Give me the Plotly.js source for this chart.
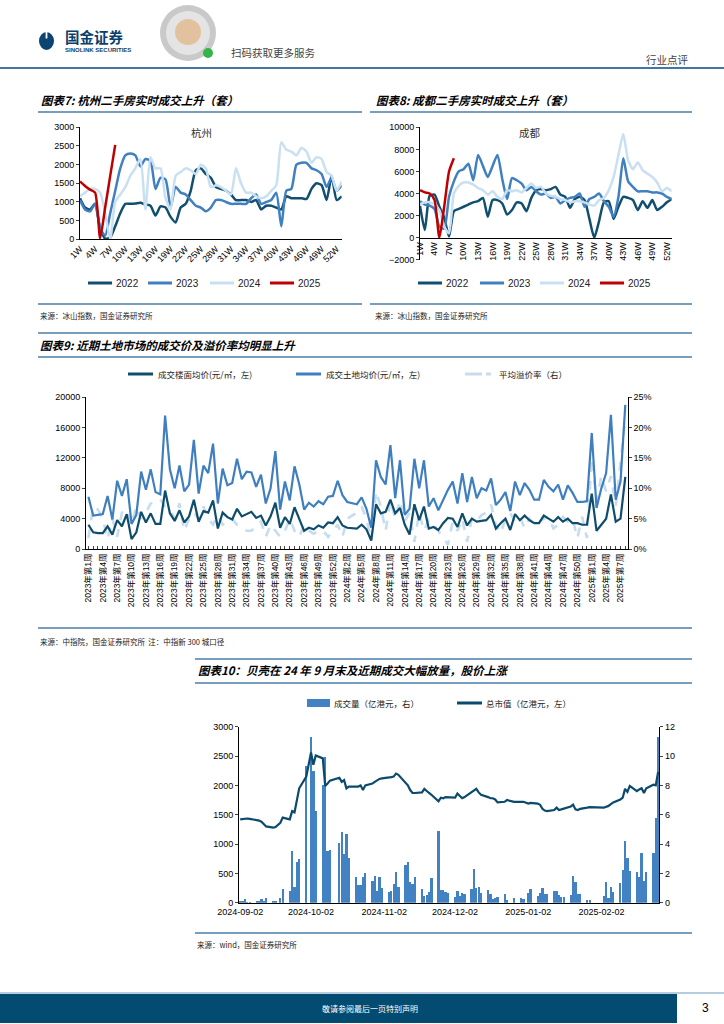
<!DOCTYPE html>
<html><head><meta charset="utf-8">
<script src="https://cdn.plot.ly/plotly-3.0.1.min.js"></script>
<style>html,body{margin:0;padding:0;background:#fff;}#chart{width:724px;height:1024px;}</style>
</head><body><div id="chart"></div>
<script>
// ---------- 图表7 杭州 ----------
const hzWeeks = [1,2,3,4,5,6,7,8,9,10,11,12,13,14,15,16,17,18,19,20,21,22,23,24,25,26,27,28,29,30,31,32,33,34,35,36,37,38,39,40,41,42,43,44,45,46,47,48,49,50,51,52,53];
const weekTickVals = [1,4,7,10,13,16,19,22,25,28,31,34,37,40,43,46,49,52];
const weekTickText = ['1W','4W','7W','10W','13W','16W','19W','22W','25W','28W','31W','34W','37W','40W','43W','46W','49W','52W'];
const hz2022 = [1100,850,800,950,300,20,50,350,700,950,950,960,980,930,900,640,880,850,600,450,850,950,1300,1850,1900,1750,1650,1400,1350,1300,1200,1050,1050,1050,1000,1050,800,900,900,850,800,1150,1100,1100,1100,1080,1350,1500,1450,1050,1700,1050,1150];
const hz2023 = [1050,800,750,950,300,100,700,1300,1900,2250,2300,2250,1950,2150,2100,1350,1650,1600,850,1400,1250,1200,1050,900,850,750,850,1050,1050,1000,950,950,950,950,1100,1200,950,1000,1050,1250,350,1300,1350,2000,2050,2050,1900,1850,1750,1400,1650,1300,1450];
const hz2024 = [1150,1250,1350,1350,1250,700,0,1000,1200,1400,1700,1900,2150,800,2200,1900,1900,1100,800,1700,1800,1900,1850,1750,2000,1900,1400,1450,1400,1300,1200,1900,1500,1250,1250,1150,1100,1150,1300,1450,2600,2400,2350,2250,2450,2350,2050,2200,2150,1800,1700,1300,1550];
const hz2025 = [1550,1430,1330,1250,30,850,1700,2530];

// ---------- 图表8 成都 ----------
const cd2022 = [2900,700,3800,3900,2800,1800,100,2400,2600,2800,3000,3200,3300,3600,1900,3400,3400,3100,2100,2500,3200,3100,2400,3600,4300,4400,4300,4400,4600,3900,3700,2700,3500,3700,3400,1700,0,1500,3200,3300,1700,2800,3700,3600,3400,2500,3300,2700,3400,2500,2800,3200,3500];
const cd2023 = [3300,3000,2900,2600,1000,800,3700,5100,6000,6200,6700,5200,7500,6500,5500,6500,7500,5300,3500,5400,5200,4900,4300,4600,4200,3900,4000,3600,3700,3100,3400,3600,3700,4000,2800,3500,3700,4000,3300,2800,1900,3700,7200,5100,4600,4200,4200,4200,4100,4100,4000,3700,3500];
const cd2024 = [3000,3200,3200,3000,2500,1000,400,4000,4700,5000,5000,4800,4500,4300,3900,4200,3700,3500,4300,4200,4300,4100,4500,4900,4500,4600,4000,3800,3700,3500,3400,3200,3300,3300,3200,3000,2900,3400,3600,4300,5500,7500,9400,7000,6200,6800,6100,5800,5500,5000,4200,4500,4200];
const cd2025 = [4300,4100,4000,3400,0,2800,6000,7200];

// ---------- 图表9 土地市场 ----------
const landWeeks = ['2023年第1周','2023年第2周','2023年第3周','2023年第4周','2023年第5周','2023年第6周','2023年第7周','2023年第8周','2023年第9周','2023年第10周','2023年第11周','2023年第12周','2023年第13周','2023年第14周','2023年第15周','2023年第16周','2023年第17周','2023年第18周','2023年第19周','2023年第20周','2023年第21周','2023年第22周','2023年第23周','2023年第24周','2023年第25周','2023年第26周','2023年第27周','2023年第28周','2023年第29周','2023年第30周','2023年第31周','2023年第32周','2023年第33周','2023年第34周','2023年第35周','2023年第36周','2023年第37周','2023年第38周','2023年第39周','2023年第40周','2023年第41周','2023年第42周','2023年第43周','2023年第44周','2023年第45周','2023年第46周','2023年第47周','2023年第48周','2023年第49周','2023年第50周','2023年第51周','2023年第52周','2023年第53周',
'2024年第1周','2024年第2周','2024年第3周','2024年第4周','2024年第5周','2024年第6周','2024年第7周','2024年第8周','2024年第9周','2024年第10周','2024年第11周','2024年第12周','2024年第13周','2024年第14周','2024年第15周','2024年第16周','2024年第17周','2024年第18周','2024年第19周','2024年第20周','2024年第21周','2024年第22周','2024年第23周','2024年第24周','2024年第25周','2024年第26周','2024年第27周','2024年第28周','2024年第29周','2024年第30周','2024年第31周','2024年第32周','2024年第33周','2024年第34周','2024年第35周','2024年第36周','2024年第37周','2024年第38周','2024年第39周','2024年第40周','2024年第41周','2024年第42周','2024年第43周','2024年第44周','2024年第45周','2024年第46周','2024年第47周','2024年第48周','2024年第49周','2024年第50周','2024年第51周','2024年第52周',
'2025年第1周','2025年第2周','2025年第3周','2025年第4周','2025年第5周','2025年第6周','2025年第7周','2025年第8周'];
const landTickLabels = ['2023年第1周','2023年第4周','2023年第7周','2023年第10周','2023年第13周','2023年第16周','2023年第19周','2023年第22周','2023年第25周','2023年第28周','2023年第31周','2023年第34周','2023年第37周','2023年第40周','2023年第43周','2023年第46周','2023年第49周','2023年第52周','2024年第2周','2024年第5周','2024年第8周','2024年第11周','2024年第14周','2024年第17周','2024年第20周','2024年第23周','2024年第26周','2024年第29周','2024年第32周','2024年第35周','2024年第38周','2024年第41周','2024年第44周','2024年第47周','2024年第50周','2025年第1周','2025年第4周','2025年第7周'];
const landFloor = [3200,2200,2100,2100,3000,1900,3800,3000,4600,1300,2200,4900,3500,4700,3300,3300,7700,4700,3700,5100,3500,4300,6500,3600,5000,4800,6400,2700,4800,4200,3900,5300,4300,4600,4900,4100,4400,3100,4300,6100,2800,4200,3300,5500,4000,2400,2800,2600,3100,2800,3500,3400,4200,3100,2800,2700,2700,3200,2600,1100,5900,4700,4900,6500,4700,5400,3200,1900,5900,3800,5600,2700,2900,2500,3400,4100,4000,2900,4700,3100,4000,3600,3700,3800,4500,2700,3400,4000,2500,4600,3800,4400,3800,3400,3400,4400,4000,3600,4200,3600,4000,3400,3400,3200,3200,7300,2400,3200,4000,7200,3600,4000,9500];
const landPrice = [6900,4400,4500,4600,7000,3900,9000,7000,9200,3300,4500,10200,7800,10500,7500,7200,17600,10500,8000,11000,7600,8500,14400,7300,11000,10000,13900,6000,10600,8400,8700,11900,9200,10200,10100,8200,9800,6000,8000,12900,5200,8900,6400,10900,8500,5200,6100,5600,6300,5900,6900,7000,9000,7100,6200,6000,5900,6800,5300,2800,11700,9500,8500,13700,6700,11700,4500,5300,11900,8000,11700,5600,6700,5100,6500,7800,8900,6000,10000,6200,9500,6700,8000,7700,9300,5800,6500,7500,5000,8900,7100,8700,7800,6500,6500,9100,8200,7600,8500,6500,8400,7400,6200,6200,6300,15300,5400,8000,10000,17700,6500,8900,19000];
const landPremium = [1.8,7.0,6.5,5.0,1.6,5.0,2.0,6.0,6.5,4.0,7.0,5.0,6.0,7.5,7.8,8.2,7.0,6.5,5.0,7.5,3.0,5.0,6.0,5.0,7.0,5.0,4.0,5.5,4.0,4.5,5.0,4.0,3.5,3.0,3.0,3.8,4.5,2.0,4.0,3.0,2.0,3.0,5.0,3.0,2.0,4.0,3.0,2.5,3.0,3.0,2.0,3.0,4.0,2.0,5.0,5.5,6.0,7.0,5.0,1.5,9.5,7.0,3.0,8.0,5.0,8.0,4.5,6.0,1.2,6.0,3.0,4.8,4.0,3.0,1.8,0.7,4.5,3.0,5.0,1.2,5.0,4.5,5.6,6.0,7.3,4.0,2.6,5.0,5.9,4.5,5.3,3.4,5.0,4.0,4.5,5.0,5.3,3.4,4.0,5.3,4.5,5.0,1.8,5.3,1.8,15.0,7.9,12.0,9.5,12.0,7.1,14.4,21.5];

// ---------- 图表10 贝壳 ----------
const bkDates = ['2024-09-02','2024-09-03','2024-09-04','2024-09-05','2024-09-06',
'2024-09-09','2024-09-10','2024-09-11','2024-09-12','2024-09-13',
'2024-09-16','2024-09-17','2024-09-19','2024-09-20',
'2024-09-23','2024-09-24','2024-09-25','2024-09-26','2024-09-27',
'2024-09-30','2024-10-02','2024-10-03','2024-10-04',
'2024-10-07','2024-10-08','2024-10-09','2024-10-10',
'2024-10-14','2024-10-15','2024-10-16','2024-10-17','2024-10-18',
'2024-10-21','2024-10-22','2024-10-23','2024-10-24','2024-10-25',
'2024-10-28','2024-10-29','2024-10-30','2024-10-31','2024-11-01',
'2024-11-04','2024-11-05','2024-11-06','2024-11-07','2024-11-08',
'2024-11-11','2024-11-12','2024-11-13','2024-11-14','2024-11-15',
'2024-11-18','2024-11-19','2024-11-20','2024-11-21','2024-11-22',
'2024-11-25','2024-11-26','2024-11-27','2024-11-28','2024-11-29',
'2024-12-02','2024-12-03','2024-12-04','2024-12-05','2024-12-06',
'2024-12-09','2024-12-10','2024-12-11','2024-12-12','2024-12-13',
'2024-12-16','2024-12-17','2024-12-18','2024-12-19','2024-12-20',
'2024-12-23','2024-12-24','2024-12-27',
'2024-12-30','2024-12-31','2025-01-02','2025-01-03',
'2025-01-06','2025-01-07','2025-01-08','2025-01-09','2025-01-10',
'2025-01-13','2025-01-14','2025-01-15','2025-01-16','2025-01-17',
'2025-01-20','2025-01-21','2025-01-22','2025-01-23','2025-01-24',
'2025-01-27','2025-01-28',
'2025-02-03','2025-02-04','2025-02-05','2025-02-06','2025-02-07',
'2025-02-10','2025-02-11','2025-02-12','2025-02-13','2025-02-14',
'2025-02-17','2025-02-18','2025-02-19','2025-02-20','2025-02-21',
'2025-02-24','2025-02-25','2025-02-26'];
const bkVolume = [0.12,0.1,0.22,0.05,0.08,
0.15,0.14,0.22,0.1,0.3,
0.1,0.15,0.35,0.93,
0.8,3.5,1.05,2.8,2.95,
9.3,11.3,9.0,6.25,
8.0,9.95,3.55,3.6,
4.1,4.85,3.3,4.7,3.05,
1.73,1.2,1.2,1.73,2.0,
1.5,1.8,0.8,1.73,1.0,
0.7,0.8,1.25,2.1,1.07,
2.55,2.8,1.43,1.3,1.73,
0.93,0.45,0.55,0.73,1.66,
4.9,0.9,0.86,0.7,0.64,
0.4,0.8,0.45,0.64,0.57,
0.93,2.27,1.0,1.1,0.64,
0.86,0.6,0.25,0.34,0.4,
0.57,0.18,0.34,
0.34,0.23,0.64,0.93,
0.45,0.64,1.0,0.57,0.57,
0.8,0.8,0.52,0.36,0.36,
0.52,1.8,1.4,0.57,0.57,
0.18,0.18,
0.45,1.4,0.34,1.1,0.7,
1.36,2.23,4.18,3.05,2.16,
2.1,1.73,3.36,1.48,2.1,
3.4,5.75,11.3];
const bkMarketCap = [1420,1425,1440,1435,1430,
1410,1400,1380,1330,1300,
1280,1290,1360,1450,
1420,1560,1540,1750,1950,
2150,2560,2350,2510,
2460,1990,2030,2080,
2130,2060,2090,1950,1980,
1980,1980,2000,1920,2000,
2030,2060,2090,2110,2120,
2130,2140,2150,2200,2180,
2050,2000,1920,1870,1870,
1880,1940,1900,1870,1840,
1730,1790,1780,1800,1800,
1790,1860,1810,1780,1800,
1880,1900,1940,1880,1840,
1800,1780,1780,1760,1710,
1720,1750,1720,
1720,1720,1690,1700,
1690,1670,1600,1570,1560,
1580,1620,1580,1590,1600,
1640,1670,1590,1580,1600,
1620,1630,
1620,1630,1650,1680,1710,
1760,1790,1940,1890,1990,
1900,1930,1950,1870,1950,
2010,2000,2230];
const bkTickVals = ['2024-09-02','2024-10-02','2024-11-02','2024-12-02','2025-01-02','2025-02-02'];

// ---------- styling ----------
const C22 = '#114f70', C23 = '#4080c0', C24 = '#c9e0f2', C25 = '#c00000';
const CDARK = '#0f4d6d', CMED = '#3f7fbf', CLIGHT = '#c6ddf0';
const BAR = '#4282c3', LINE10 = '#0b4a6c';
const RULE = '#4a7ea8';
const W = 724, H = 1024;
const X = p => p / W, Y = p => 1 - p / H;
const NUM = 'Liberation Sans, Arial, Noto Sans CJK SC, sans-serif';
const CJK = 'Noto Sans CJK SC, sans-serif';

const traces = [
  {x: hzWeeks, y: hz2022, xaxis:'x', yaxis:'y', mode:'lines', line:{color:C22, width:2.5, shape:'spline', smoothing:0.6}, name:'2022'},
  {x: hzWeeks, y: hz2023, xaxis:'x', yaxis:'y', mode:'lines', line:{color:C23, width:2.5, shape:'spline', smoothing:0.6}, name:'2023'},
  {x: hzWeeks, y: hz2024, xaxis:'x', yaxis:'y', mode:'lines', line:{color:C24, width:2.5, shape:'spline', smoothing:0.6}, name:'2024'},
  {x: hzWeeks, y: hz2025, xaxis:'x', yaxis:'y', mode:'lines', line:{color:C25, width:2.5, shape:'spline', smoothing:0.6}, name:'2025'},
  {x: hzWeeks, y: cd2022, xaxis:'x2', yaxis:'y2', mode:'lines', line:{color:C22, width:2.5, shape:'spline', smoothing:0.6}, name:'2022'},
  {x: hzWeeks, y: cd2023, xaxis:'x2', yaxis:'y2', mode:'lines', line:{color:C23, width:2.5, shape:'spline', smoothing:0.6}, name:'2023'},
  {x: hzWeeks, y: cd2024, xaxis:'x2', yaxis:'y2', mode:'lines', line:{color:C24, width:2.5, shape:'spline', smoothing:0.6}, name:'2024'},
  {x: hzWeeks, y: cd2025, xaxis:'x2', yaxis:'y2', mode:'lines', line:{color:C25, width:2.5, shape:'spline', smoothing:0.6}, name:'2025'},
  {x: landWeeks, y: landPremium, xaxis:'x3', yaxis:'y3', mode:'lines', line:{color:CLIGHT, width:2.6, dash:'dash'}, name:'平均溢价率（右）'},
  {x: landWeeks, y: landPrice, xaxis:'x3', yaxis:'y4', mode:'lines', line:{color:CMED, width:2.2}, name:'成交土地均价'},
  {x: landWeeks, y: landFloor, xaxis:'x3', yaxis:'y4', mode:'lines', line:{color:CDARK, width:2.2}, name:'成交楼面均价'},
  {x: bkDates, y: bkVolume, xaxis:'x4', yaxis:'y5', type:'bar', marker:{color:BAR, line:{width:0}}, width:86400000*0.95, name:'成交量'},
  {x: bkDates, y: bkMarketCap, xaxis:'x4', yaxis:'y6', mode:'lines', line:{color:LINE10, width:2.2}, name:'总市值'}
];

function ax(extra){
  return Object.assign({showgrid:false, zeroline:false, showline:true, linecolor:'#000', linewidth:1,
    ticks:'', tickfont:{family:NUM, size:9, color:'#000'}, fixedrange:true, automargin:false}, extra);
}
const landTickText = landWeeks.map(w => landTickLabels.includes(w) ? w : '');

const layout = {
  width: W, height: H, margin:{l:0,r:0,t:0,b:0}, paper_bgcolor:'#fff', plot_bgcolor:'rgba(0,0,0,0)',
  showlegend:false, font:{family:NUM, size:9, color:'#000'}, bargap:0,
  xaxis: ax({domain:[X(80),X(341.7)], anchor:'y', range:[1,53], tickmode:'array', tickvals:weekTickVals, ticktext:weekTickText, tickangle:-45}),
  yaxis: ax({domain:[Y(239.3),Y(127.3)], anchor:'x', range:[0,3000], dtick:500, tickformat:'d', ticks:'outside', ticklen:3}),
  xaxis2: ax({domain:[X(420),X(671.7)], anchor:'free', position:Y(237.7), range:[1,53], tickmode:'array', tickvals:weekTickVals, ticktext:weekTickText, tickangle:-90}),
  yaxis2: ax({domain:[Y(259.7),Y(127.3)], anchor:'x2', range:[-2000,10000], dtick:2000, tickformat:'d', ticks:'outside', ticklen:3}),
  xaxis3: ax({domain:[X(86),X(627.7)], anchor:'y3', type:'category', range:[-0.5,112.5], tickmode:'array', tickvals:landWeeks, ticktext:landTickText, tickangle:-90, ticks:'inside', ticklen:3, tickfont:{family:NUM, size:8.5, color:'#000'}}),
  yaxis3: ax({domain:[Y(549),Y(397.3)], anchor:'x3', side:'right', range:[0,25], dtick:5, ticksuffix:'%', ticks:'outside', ticklen:3}),
  yaxis4: ax({overlaying:'y3', anchor:'x3', side:'left', range:[0,20000], dtick:4000, tickformat:'d', ticks:'outside', ticklen:3}),
  xaxis4: ax({domain:[X(239),X(659.3)], anchor:'y5', type:'date', range:['2024-09-01 12:00','2025-02-26 12:00'], tickmode:'array', tickvals:bkTickVals, ticktext:bkTickVals, tickangle:0}),
  yaxis5: ax({domain:[Y(902.7),Y(726.7)], anchor:'x4', side:'right', range:[0,12], dtick:2, ticks:'outside', ticklen:3}),
  yaxis6: ax({overlaying:'y5', anchor:'x4', side:'left', range:[0,3000], dtick:500, tickformat:'d', ticks:'outside', ticklen:3}),
  shapes: [], annotations: []
};

const S = layout.shapes, A = layout.annotations;
function hline(x0,x1,y,color,width,dash){ S.push({type:'line', xref:'paper', yref:'paper', x0:X(x0), x1:X(x1), y0:Y(y), y1:Y(y), line:{color:color, width:width, dash:dash||'solid'}}); }
function rect(x0,x1,y0,y1,fill){ S.push({type:'rect', xref:'paper', yref:'paper', x0:X(x0), x1:X(x1), y0:Y(y1), y1:Y(y0), fillcolor:fill, line:{width:0}}); }
function circ(x0,x1,y0,y1,fill){ S.push({type:'circle', xref:'paper', yref:'paper', x0:X(x0), x1:X(x1), y0:Y(y1), y1:Y(y0), fillcolor:fill, line:{width:0}}); }
function txt(x,y,text,size,opt){ A.push(Object.assign({xref:'paper', yref:'paper', x:X(x), y:Y(y), text:text, showarrow:false, xanchor:'left', yanchor:'middle', font:{family:CJK, size:size, color:'#222'}}, opt||{})); }

// header
circ(39,54,32,50,'#0b4470'); rect(45.6,47.4,31,38.5,'#ffffff');
txt(63,36.5,'<b>国金证券</b>',14.5,{font:{family:CJK,size:14.5,color:'#0b3f6b'}});
txt(63,50,'<b>SINOLINK SECURITIES</b>',6,{font:{family:NUM,size:6,color:'#0b3f6b'}});
circ(160,216,5,61,'#c9c9c9'); circ(166,210,11,55,'#e4e4e4'); circ(175,201,19,45,'#e2c29e'); circ(203,213,48,58,'#34b44a');
txt(229,52,'扫码获取更多服务',10.5,{font:{family:CJK,size:10.5,color:'#444'}});
txt(691,59,'行业点评',10.5,{xanchor:'right', font:{family:CJK,size:10.5,color:'#444'}});
hline(0,724,68,'#3f76a2',2);

// chart 7 / 8 frame
txt(39,100,'<b><i>图表7: 杭州二手房实时成交上升（套）</i></b>',11.5,{font:{family:CJK,size:11.5,color:'#000'}});
txt(374,100,'<b><i>图表8: 成都二手房实时成交上升（套）</i></b>',11.5,{font:{family:CJK,size:11.5,color:'#000'}});
hline(38,362,112,RULE,1.5); hline(370,692,112,RULE,1.5);
txt(201.7,132,'杭州',10.5,{xanchor:'center', font:{family:CJK,size:10.5,color:'#333'}});
txt(530,132,'成都',10.5,{xanchor:'center', font:{family:CJK,size:10.5,color:'#333'}});
const years = ['2022','2023','2024','2025'], ycol = [C22,C23,C24,C25];
const lgL = [88,148,210,270], lgR = [418,480,540,600];
for (let i=0;i<4;i++){
  hline(lgL[i],lgL[i]+24,283,ycol[i],3); txt(lgL[i]+26,283,years[i],10,{font:{family:NUM,size:10,color:'#222'}});
  hline(lgR[i],lgR[i]+24,283,ycol[i],3); txt(lgR[i]+26,283,years[i],10,{font:{family:NUM,size:10,color:'#222'}});
}
hline(38,362,304,RULE,1.5); hline(370,692,304,RULE,1.5);
txt(38,315,'来源：冰山指数，国金证券研究所',7.5);
txt(373,315,'来源：冰山指数，国金证券研究所',7.5);

// chart 9 frame
hline(38,692,333,RULE,1.5);
txt(38,345,'<b><i>图表9: 近期土地市场的成交价及溢价率均明显上升</i></b>',11.5,{font:{family:CJK,size:11.5,color:'#000'}});
hline(38,692,357,RULE,1.5);
hline(128,153,374,CDARK,3); txt(156,374,'成交楼面均价(元/㎡，左)',8.5);
hline(296,321,374,CMED,3); txt(324,374,'成交土地均价(元/㎡，左)',8.5);
hline(465,482,374,CLIGHT,3); hline(486,491,374,CLIGHT,3); txt(497,374,'平均溢价率（右）',8.5);
hline(38,692,628,RULE,1.5);
txt(38,641,'来源：中指院，国金证券研究所  注：中指新 300 城口径',7.5);

// chart 10 frame
hline(195,692,659,RULE,1.5);
txt(196,670,'<b><i>图表10：贝壳在 24 年 9 月末及近期成交大幅放量，股价上涨</i></b>',11.5,{font:{family:CJK,size:11.5,color:'#000'}});
hline(195,692,683,RULE,1.5);
rect(307,330,699,707,BAR); txt(332,703,'成交量（亿港元，右）',8.5);
hline(457,482,703,LINE10,3); txt(484,703,'总市值（亿港元，左）',8.5);
hline(195,692,933,RULE,1.5);
txt(195,944,'来源：wind，国金证券研究所',7.5);

// footer
hline(0,724,993,'#6c9bc0',1);
rect(0,677,994,1023,'#034b70');
txt(370,1008,'敬请参阅最后一页特别声明',8,{xanchor:'center', font:{family:CJK,size:8,color:'#ffffff'}});
txt(705,1008,'3',12,{xanchor:'center', font:{family:NUM,size:12,color:'#000'}});

Plotly.newPlot('chart', traces, layout, {staticPlot:true, displayModeBar:false});
</script></body></html>
